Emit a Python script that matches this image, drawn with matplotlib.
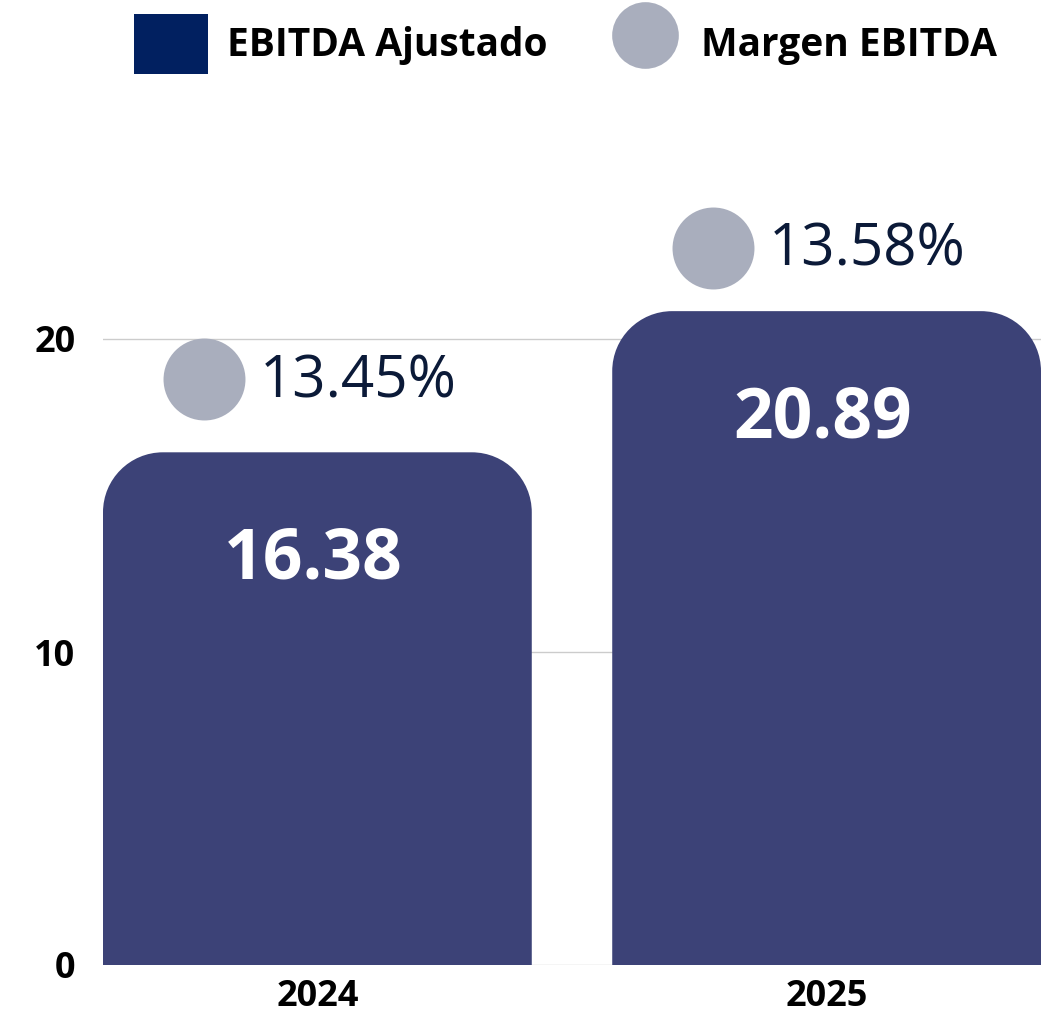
import matplotlib.pyplot as plt
from matplotlib.path import Path
from matplotlib.patches import PathPatch, Patch
from matplotlib.lines import Line2D

years = ['2024', '2025']
ebitda = [16.38, 20.89]
margen = [13.45, 13.58]
y_ticks = [0, 10, 20]

bar_color = '#3C4277'
dot_color = '#A9AEBD'
legend_bar_color = '#012060'
text_dark = '#0B1A38'

plt.rcParams['font.family'] = ['Open Sans', 'DejaVu Sans']

fig = plt.figure(figsize=(10.41, 10.14), dpi=100)
ax = fig.add_axes([103 / 1041, 49 / 1014, 938 / 1041, 939 / 1014])
ax.set_xlim(-0.421, 1.421)
ax.set_ylim(0, 30)

width = 0.842


# barra con solo las esquinas de arriba redondeadas
def rounded_bar(x, h, w, r_px):
    x_span = ax.get_xlim()[1] - ax.get_xlim()[0]
    y_span = ax.get_ylim()[1] - ax.get_ylim()[0]
    rx = r_px * x_span / 938
    ry = r_px * y_span / 939
    k = 0.5523
    x0, x1 = x - w / 2, x + w / 2
    verts = [(x0, 0), (x0, h - ry),
             (x0, h - ry + k * ry), (x0 + rx - k * rx, h), (x0 + rx, h),
             (x1 - rx, h),
             (x1 - rx + k * rx, h), (x1, h - ry + k * ry), (x1, h - ry),
             (x1, 0), (x0, 0)]
    codes = [Path.MOVETO, Path.LINETO,
             Path.CURVE4, Path.CURVE4, Path.CURVE4,
             Path.LINETO,
             Path.CURVE4, Path.CURVE4, Path.CURVE4,
             Path.LINETO, Path.CLOSEPOLY]
    return PathPatch(Path(verts, codes), facecolor=bar_color, edgecolor='none', zorder=3)


for i, v in enumerate(ebitda):
    ax.add_patch(rounded_bar(i, v, width, 60))
    ax.annotate(f'{v:.2f}', (i, v), xytext=(-3, -78), textcoords='offset points',
                ha='center', va='center', fontsize=50, fontweight='bold',
                color='white', zorder=5)

ax.set_yticks(y_ticks)
ax.set_xticks(range(len(years)))
ax.set_xticklabels(years)
ax.grid(axis='y', color='#CCCCCC', linewidth=1, zorder=0)
ax.tick_params(length=0, labelsize=26)
ax.tick_params(axis='y', pad=20)
ax.tick_params(axis='x', pad=10)
for lab in ax.get_xticklabels() + ax.get_yticklabels():
    lab.set_fontweight('bold')
for s in ax.spines.values():
    s.set_visible(False)

# margen en eje secundario
ax2 = ax.twinx()
ax2.set_ylim(12.869, 13.80)
ax2.set_yticks([])
for s in ax2.spines.values():
    s.set_visible(False)
for i, m in enumerate(margen):
    ax2.plot(i - 0.223, m, 'o', ms=59, color=dot_color, mec='none', zorder=4)
    ax2.annotate(f'{m:.2f}%', (i - 0.223, m), xytext=(40, -2), textcoords='offset points',
                 ha='left', va='center', fontsize=42, color=text_dark)

handles = [Patch(facecolor=legend_bar_color, edgecolor='none'),
           Line2D([], [], marker='o', ls='none', ms=48, color=dot_color, mec='none')]
fig.legend(handles, ['EBITDA Ajustado', 'Margen EBITDA'], loc='center left',
           bbox_to_anchor=(134 / 1041, 1 - 44 / 1014), ncol=2, frameon=False,
           prop={'size': 28, 'weight': 'bold'}, handlelength=1.9, handleheight=1.96,
           handletextpad=0.5, columnspacing=1.55, borderpad=0, borderaxespad=0)

fig.savefig('out.png', dpi=100)
